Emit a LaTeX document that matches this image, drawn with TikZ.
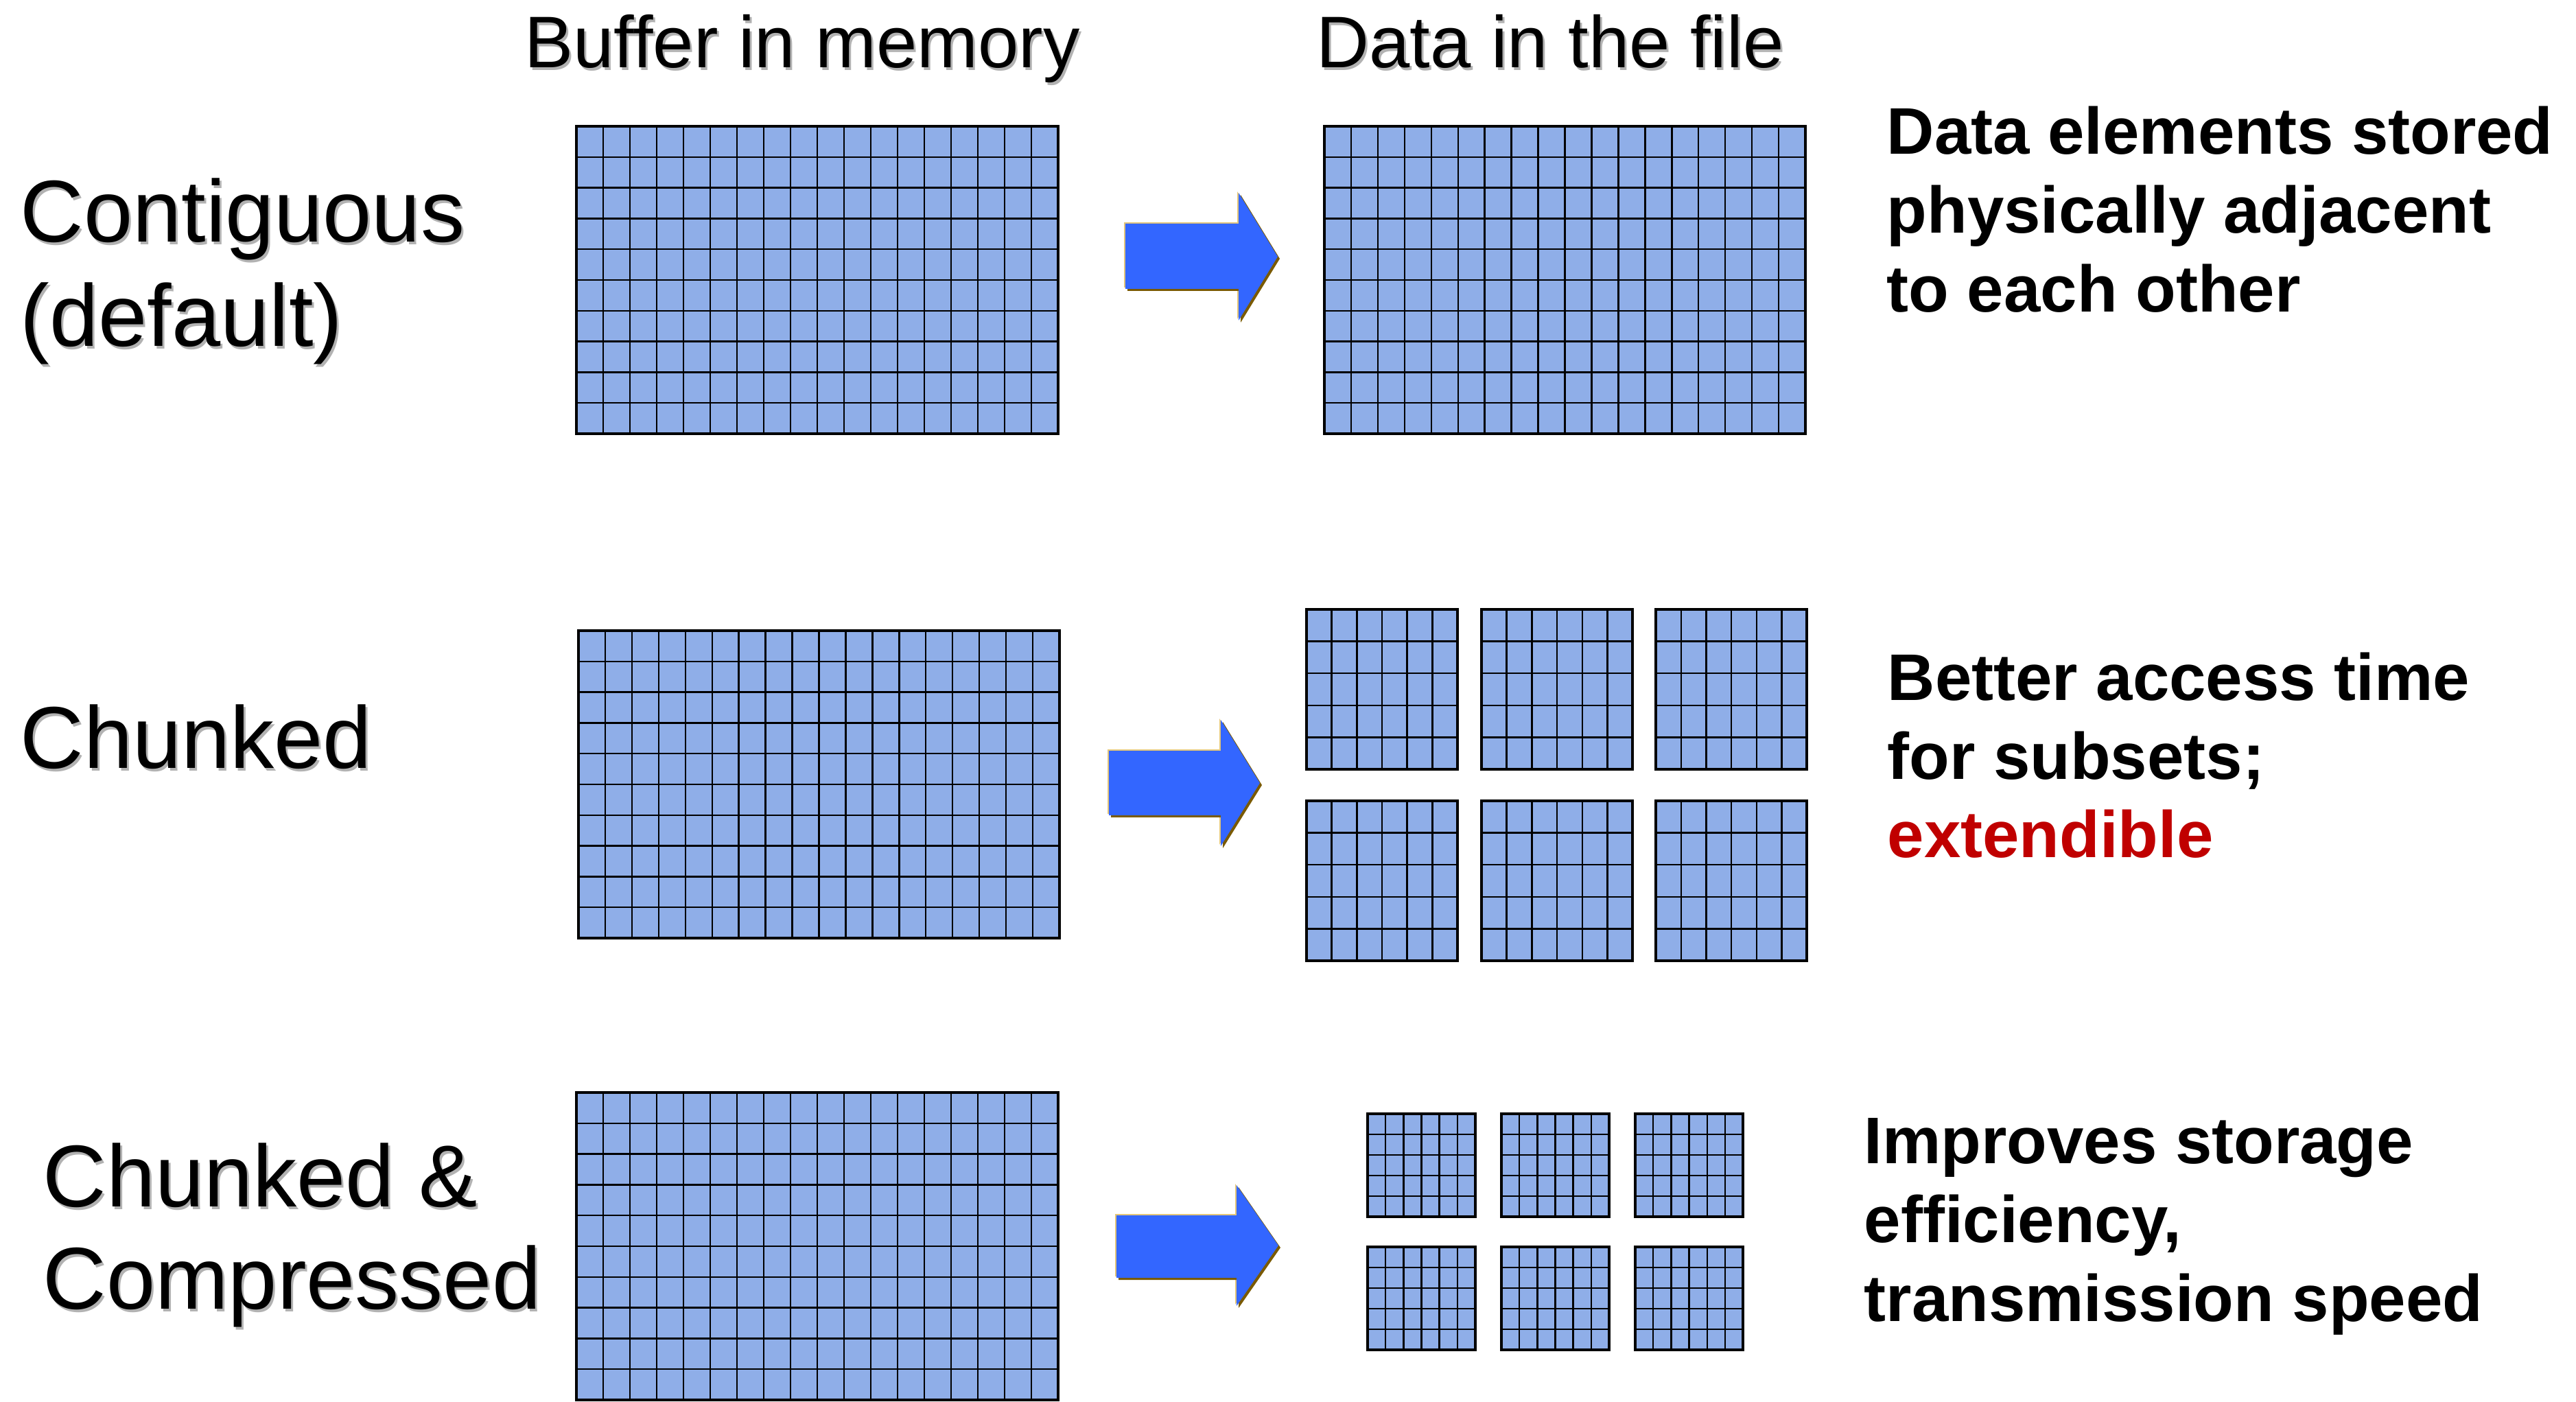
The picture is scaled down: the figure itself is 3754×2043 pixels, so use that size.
\documentclass[tikz,border=0pt]{standalone}
\usepackage{fontspec}
\setmainfont{Liberation Sans}
\definecolor{cellfill}{HTML}{8FAEE8}
\definecolor{arrowblue}{HTML}{3366FF}
\definecolor{arrowlight}{HTML}{E3C67A}
\definecolor{arrowdark}{HTML}{7A5A00}
\definecolor{accentred}{HTML}{C00000}
\tikzset{
  gridline/.style={draw=black, line width=0.68pt},
  gridframe/.style={draw=black, line width=0.9pt},
  header/.style={inner sep=0pt, anchor=base, font=\fontsize{30.3}{36}\selectfont},
  rowlabel/.style={inner sep=0pt, anchor=base west, font=\fontsize{36.4}{43}\selectfont},
  note/.style={inner sep=0pt, anchor=base west, font=\fontsize{27.3}{32}\selectfont\bfseries},
  shadowtext/.style={text=black!30}
}
% grid of cells: corners (x0,y0) (x1,y1), columns, rows
\newcommand\cellgrid[6]{%
  \fill[cellfill] (#1,#2) rectangle (#3,#4);
  \pgfmathsetmacro\gridcw{(#3-#1)/#5}
  \pgfmathsetmacro\gridch{(#4-#2)/#6}
  \pgfmathtruncatemacro\gridnc{#5-1}
  \pgfmathtruncatemacro\gridnr{#6-1}
  \foreach \k in {1,...,\gridnc}{\draw[gridline] ({#1+\k*\gridcw},#2) -- ({#1+\k*\gridcw},#4);}
  \foreach \k in {1,...,\gridnr}{\draw[gridline] (#1,{#2+\k*\gridch}) -- (#3,{#2+\k*\gridch});}
  \draw[gridframe] (#1,#2) rectangle (#3,#4);
}
% block arrow: shaft left, shaft top, shaft bottom, head x, head top, head bottom, tip x
\newcommand\blockarrow[7]{%
  \pgfmathsetmacro\tipy{(#5+#6)/2}
  \foreach \dx/\dy/\col in {-2/-2/arrowlight, 3/3/arrowdark, 0/0/arrowblue}{
    \fill[\col, shift={(\dx,\dy)}] (#1,#2) -- (#4,#2) -- (#4,#5) -- (#7,\tipy)
      -- (#4,#6) -- (#4,#3) -- (#1,#3) -- cycle;
  }
}
% text with a soft grey drop shadow
\newcommand\shadowlabel[4]{%
  \node[#1, shadowtext] at ($(#3)+(3,4)$) {#4};
  \node[#1] (#2) at (#3) {#4};
}
\usetikzlibrary{calc}
\begin{document}
\begin{tikzpicture}[x=0.01cm, y=-0.01cm]
\useasboundingbox (0,0) rectangle (3754,2043);

% column headers
\shadowlabel{header}{hmem}{1169,99}{Buffer in memory}
\shadowlabel{header}{hfile}{2259,99}{Data in the file}

% row labels
\shadowlabel{rowlabel}{contigA}{29,353}{Contiguous}
\shadowlabel{rowlabel}{contigB}{29,505}{(default)}
\shadowlabel{rowlabel}{chunked}{29,1119}{Chunked}
\shadowlabel{rowlabel}{comprA}{62,1758}{Chunked \&}
\shadowlabel{rowlabel}{comprB}{62,1907}{Compressed}

% contiguous layout
\cellgrid{840}{184}{1542}{632}{18}{10}
\blockarrow{1640}{326}{421}{1805}{281}{467}{1862}
\cellgrid{1930}{184}{2631}{632}{18}{10}

% chunked layout
\cellgrid{843}{919}{1544}{1367}{18}{10}
\blockarrow{1616}{1094}{1188}{1779}{1049}{1233}{1836}
\foreach \cx in {1904,2159,2413}{
  \foreach \cy in {888,1167}{
    \cellgrid{\cx}{\cy}{\cx+220}{\cy+233}{6}{5}
  }
}

% chunked and compressed layout
\cellgrid{840}{1592}{1542}{2040}{18}{10}
\blockarrow{1627}{1771}{1862}{1802}{1727}{1903}{1863}
\foreach \cx in {1993,2188,2383}{
  \foreach \cy in {1623,1817}{
    \cellgrid{\cx}{\cy}{\cx+157}{\cy+150}{6}{5}
  }
}

% descriptions
\node[note] (n1a) at (2749,225) {Data elements stored};
\node[note] (n1b) at (2749,340) {physically adjacent};
\node[note] (n1c) at (2749,455) {to each other};
\node[note] (n2a) at (2750,1020) {Better access time};
\node[note] (n2b) at (2750,1135) {for subsets;};
\node[note, text=accentred] (n2c) at (2750,1249) {extendible};
\node[note] (n3a) at (2716,1695) {Improves storage};
\node[note] (n3b) at (2716,1810) {efficiency,};
\node[note] (n3c) at (2716,1925) {transmission speed};
\end{tikzpicture}
\end{document}
